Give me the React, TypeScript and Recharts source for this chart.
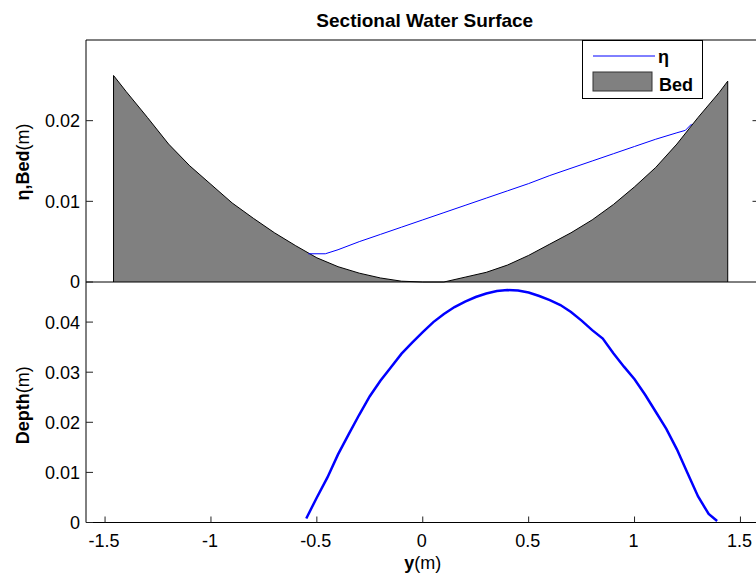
import { Area, ComposedChart, Legend, Line, XAxis, YAxis } from "recharts";

const FONT = "Arial, 'Liberation Sans', Helvetica, sans-serif";

// lateral position y (m) and bed level (m)
const bedPos = [-1.46, -1.4, -1.3, -1.2, -1.1, -1.0, -0.9, -0.8, -0.7, -0.6, -0.5, -0.4, -0.3, -0.2, -0.1, 0, 0.1, 0.2, 0.3, 0.4, 0.5, 0.6, 0.7, 0.8, 0.9, 1.0, 1.1, 1.2, 1.3, 1.4, 1.44];
const bedLevel = [0.0256, 0.0236, 0.0204, 0.0171, 0.0144, 0.0121, 0.0098, 0.0079, 0.0061, 0.0045, 0.003, 0.0019, 0.0011, 0.0005, 0.0001, 0, 0, 0.0006, 0.0012, 0.0021, 0.0033, 0.0047, 0.0061, 0.0077, 0.0096, 0.0118, 0.0142, 0.0171, 0.0204, 0.0235, 0.0249];

// water surface elevation over the wet part
const etaPos = [-0.54, -0.46, -0.4, -0.3, -0.2, -0.1, 0, 0.1, 0.2, 0.3, 0.4, 0.5, 0.6, 0.7, 0.8, 0.9, 1.0, 1.1, 1.2, 1.24, 1.27];
const etaLevel = [0.0035, 0.0035, 0.004, 0.005, 0.0059, 0.0068, 0.0077, 0.0086, 0.0095, 0.0104, 0.0113, 0.0122, 0.0132, 0.0141, 0.015, 0.0159, 0.0168, 0.0177, 0.0185, 0.0188, 0.0196];

// flow depth
const depthPos = [-0.55, -0.5, -0.45, -0.4, -0.35, -0.3, -0.25, -0.2, -0.15, -0.1, -0.05, 0, 0.05, 0.1, 0.15, 0.2, 0.25, 0.3, 0.35, 0.4, 0.45, 0.5, 0.55, 0.6, 0.65, 0.7, 0.75, 0.8, 0.85, 0.9, 0.95, 1.0, 1.05, 1.1, 1.15, 1.2, 1.25, 1.3, 1.35, 1.39];
const depthLevel = [0.0008, 0.005, 0.009, 0.0136, 0.0176, 0.0215, 0.0252, 0.0283, 0.031, 0.0337, 0.0359, 0.038, 0.04, 0.0416, 0.043, 0.0441, 0.045, 0.0457, 0.0462, 0.0464, 0.0463, 0.0459, 0.0452, 0.0444, 0.0434, 0.042, 0.0403, 0.0384, 0.0367, 0.0338, 0.0311, 0.0286, 0.0255, 0.0221, 0.0187, 0.0146, 0.0099, 0.0052, 0.0017, 0.0003];

const xTicks = [-1.5, -1, -0.5, 0, 0.5, 1, 1.5];
const surfTicks = [0, 0.01, 0.02];
const depthTicks = [0, 0.01, 0.02, 0.03, 0.04];

const X_DOMAIN: [number, number] = [-1.59, 1.59];

// area gets closed down to zero at both ends like matlab's area()
const bedData = [
  { y: bedPos[0], bed: 0 },
  ...bedPos.map((y, i) => ({ y, bed: bedLevel[i] })),
  { y: bedPos[bedPos.length - 1], bed: 0 },
];
const etaData = etaPos.map((y, i) => ({ y, eta: etaLevel[i] }));
const depthData = depthPos.map((y, i) => ({ y, depth: depthLevel[i] }));

const W = 800;
const H = 575;
const MARGIN_LEFT = 26;
const MARGIN_RIGHT = 30.5;
const RIGHT_AXIS_W = 10;

const LeftTick = (props: any) => {
  const { x, y, payload } = props;
  return (
    <g>
      <line x1={x} x2={x + 7} y1={y} y2={y} stroke="#222" />
      <text x={x - 6} y={y} dy="0.36em" textAnchor="end" fontSize={18} fontFamily={FONT} fill="#000">
        {String(payload.value)}
      </text>
    </g>
  );
};

const RightTick = (props: any) => {
  const { x, y } = props;
  return <line x1={x - 7} x2={x} y1={y} y2={y} stroke="#222" />;
};

const BottomTick = (props: any) => {
  const { x, y, payload } = props;
  return (
    <g>
      <line x1={x} x2={x} y1={y - 6} y2={y} stroke="#222" />
      <text x={x - 1} y={y + 24.5} textAnchor="middle" fontSize={18} fontFamily={FONT} fill="#000">
        {String(payload.value)}
      </text>
    </g>
  );
};

const yLabel = (bold: string, midOffset: number) => (props: any) => {
  const vb = props.viewBox || {};
  const x = vb.x + 3;
  const y = vb.y + vb.height / 2 + midOffset;
  return (
    <text x={x} y={y} transform={`rotate(-90, ${x}, ${y})`} textAnchor="middle" fontSize={18} fontFamily={FONT} fill="#000">
      <tspan fontWeight="bold">{bold}</tspan>
      <tspan>(m)</tspan>
    </text>
  );
};

const xLabel = (props: any) => {
  const vb = props.viewBox || {};
  return (
    <text x={vb.x + vb.width / 2} y={vb.y + 46} textAnchor="middle" fontSize={18} fontFamily={FONT} fill="#000">
      <tspan fontWeight="bold">y</tspan>
      <tspan>(m)</tspan>
    </text>
  );
};

const titleLabel = (props: any) => {
  const vb = props.viewBox || {};
  return (
    <text x={vb.x + vb.width / 2 + 2} y={vb.y + vb.height - 13.5} textAnchor="middle" fontSize={19} fontWeight="bold" fontFamily={FONT} fill="#000">
      Sectional Water Surface
    </text>
  );
};

const LegendBox = (props: any) => {
  const items = (props.payload || []).filter((item: any) => item.type !== "none" && item.value);
  return (
    <div style={{ width: 121, height: 59, boxSizing: "border-box", border: "1px solid #000", background: "#fff" }}>
      <svg width={119} height={57} style={{ display: "block" }}>
        {items.map((item: any, i: number) =>
          item.type === "rect" ? (
            <g key={i}>
              <rect x={10} y={31} width={59} height={19} fill="#808080" stroke="#333" />
              <text x={76} y={49.7} fontSize={18} fontWeight="bold" fontFamily={FONT} fill="#000">{item.value}</text>
            </g>
          ) : (
            <g key={i}>
              <line x1={10} x2={72} y1={15} y2={15} stroke="#0000ff" strokeWidth={1} />
              <text x={75} y={22} fontSize={18} fontWeight="bold" fontFamily={FONT} fill="#000">{item.value}</text>
            </g>
          )
        )}
      </svg>
    </div>
  );
};

function SurfaceChart() {
  return (
    <ComposedChart width={W} height={H} margin={{ top: 10, right: MARGIN_RIGHT, bottom: H - 282 - 2, left: MARGIN_LEFT }}>
      <XAxis dataKey="y" type="number" domain={X_DOMAIN} allowDataOverflow height={2} tick={false} tickLine={false} axisLine={{ stroke: "#000" }} />
      <XAxis xAxisId="top" dataKey="y" orientation="top" type="number" domain={X_DOMAIN} allowDataOverflow height={30} tick={false} tickLine={false} axisLine={{ stroke: "#000" }} label={titleLabel} />
      <YAxis type="number" domain={[0, 0.03]} ticks={surfTicks} interval={0} width={60} tickSize={0} tickMargin={0} tickLine={false} tick={LeftTick} axisLine={{ stroke: "#000" }} label={yLabel("η,Bed", 1)} />
      <YAxis yAxisId="r" orientation="right" type="number" domain={[0, 0.03]} ticks={[0.01, 0.02]} interval={0} width={RIGHT_AXIS_W} tickSize={0} tickMargin={0} tickLine={false} tick={RightTick} axisLine={{ stroke: "#000" }} />
      <Line data={etaData} dataKey="eta" name="η" type="linear" stroke="#0000ff" strokeWidth={1} dot={false} legendType="line" isAnimationActive={false} />
      <Area data={bedData} dataKey="bed" name="Bed" type="linear" stroke="#000" strokeWidth={1} fill="#808080" fillOpacity={1} legendType="rect" isAnimationActive={false} />
      {/* invisible series so the top and right frame axes get drawn */}
      <Line data={etaData} xAxisId="top" yAxisId="r" dataKey="eta" name="" stroke="none" dot={false} legendType="none" isAnimationActive={false} />
      <Legend layout="vertical" align="center" verticalAlign="middle" wrapperStyle={{ left: 582, top: 40, width: 121, height: 59 }} content={LegendBox} />
    </ComposedChart>
  );
}

function DepthChart() {
  return (
    <ComposedChart width={W} height={H} margin={{ top: 282, right: MARGIN_RIGHT + RIGHT_AXIS_W, bottom: H - 522.5 - 40, left: MARGIN_LEFT }}>
      <XAxis dataKey="y" type="number" domain={X_DOMAIN} allowDataOverflow ticks={xTicks} interval={0} height={40} tickSize={0} tickMargin={0} tickLine={false} tick={BottomTick} axisLine={{ stroke: "#000" }} label={xLabel} />
      <YAxis type="number" domain={[0, 0.048]} allowDataOverflow ticks={depthTicks} interval={0} width={60} tickSize={0} tickMargin={0} tickLine={false} tick={LeftTick} axisLine={{ stroke: "#000" }} label={yLabel("Depth", 3)} />
      <Line data={depthData} dataKey="depth" name="Depth" type="linear" stroke="#0000ff" strokeWidth={2.5} dot={false} isAnimationActive={false} />
    </ComposedChart>
  );
}

export default function App() {
  return (
    <div style={{ position: "absolute", left: 0, top: 0, width: 756, height: 575, overflow: "hidden", background: "#fff" }}>
      <div style={{ position: "absolute", left: 0, top: 0 }}>
        <SurfaceChart />
      </div>
      <div style={{ position: "absolute", left: 0, top: 0 }}>
        <DepthChart />
      </div>
    </div>
  );
}
